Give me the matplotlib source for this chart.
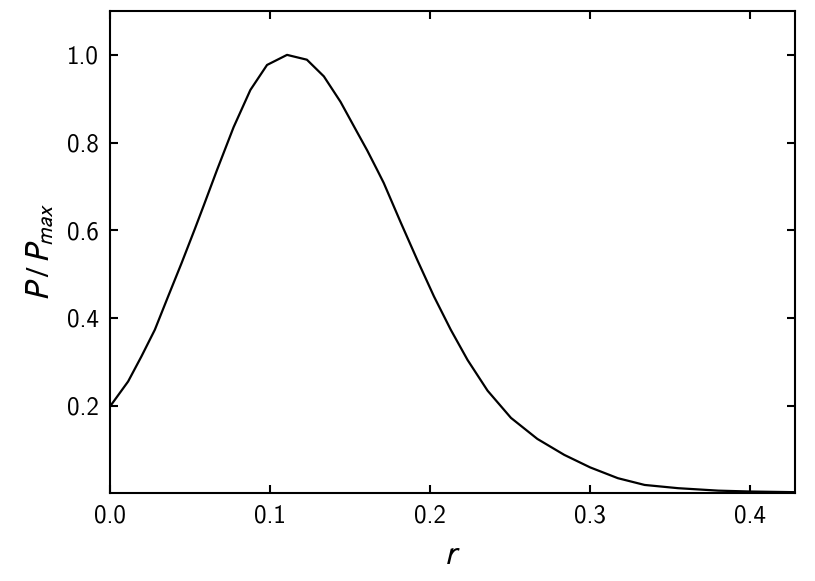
import matplotlib
matplotlib.use("Agg")
import matplotlib.pyplot as plt

# values
r = [0.0, 0.0113, 0.0196, 0.028, 0.0363, 0.0447, 0.053, 0.0584, 0.0668,
     0.0772, 0.0877, 0.0981, 0.1106, 0.123, 0.1336, 0.144, 0.1545, 0.1607,
     0.167, 0.171, 0.1816, 0.192, 0.2024, 0.2129, 0.2234, 0.2359, 0.2505,
     0.267, 0.2838, 0.300, 0.3173, 0.334, 0.3549, 0.380, 0.400, 0.428]
p = [0.198, 0.255, 0.312, 0.373, 0.449, 0.525, 0.603, 0.655, 0.737,
     0.835, 0.920, 0.977, 1.0, 0.989, 0.951, 0.893, 0.823, 0.782,
     0.737, 0.708, 0.618, 0.532, 0.449, 0.373, 0.304, 0.234, 0.172,
     0.124, 0.0876, 0.059, 0.0344, 0.019, 0.0116, 0.006, 0.004, 0.0025]
xticks = [0.0, 0.1, 0.2, 0.3, 0.4]
yticks = [0.2, 0.4, 0.6, 0.8, 1.0]

plt.rcParams['font.family'] = 'cmss10'
plt.rcParams['mathtext.fontset'] = 'stixsans'
plt.rcParams['axes.formatter.use_mathtext'] = True
plt.rcParams['axes.unicode_minus'] = False

fig = plt.figure(figsize=(8.15, 5.81), dpi=100)
ax = fig.add_axes([0.135, 0.151, 0.8405, 0.830])

ax.plot(r, p, color='black', linewidth=1.6, solid_joinstyle='round')

ax.set_xlim(0, 0.428)
ax.set_ylim(0, 1.1)
ax.set_xticks(xticks)
ax.set_yticks(yticks)
ax.set_xticklabels(['%.1f' % v for v in xticks])
ax.set_yticklabels(['%.1f' % v for v in yticks])
ax.tick_params(direction='in', top=True, right=True, length=6, width=1.5,
               labelsize=18, pad=8)
for s in ax.spines.values():
  s.set_linewidth(1.5)

ax.set_xlabel(r'$r$', fontsize=24, labelpad=10)
ax.set_ylabel(r'$P\;/\,P_{max}$', fontsize=24, labelpad=8)

plt.savefig('out.png', dpi=100)
